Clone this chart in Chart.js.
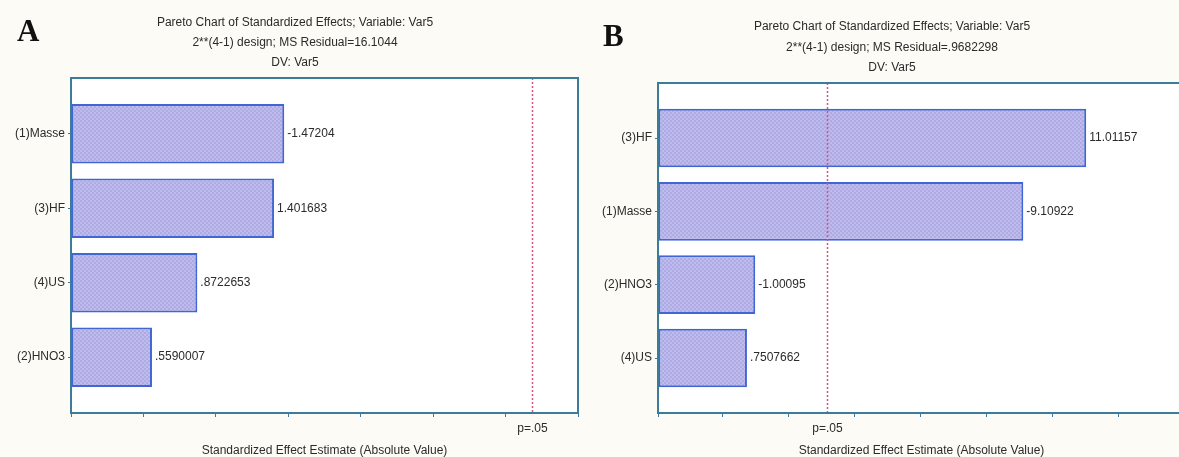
<!DOCTYPE html>
<html>
<head>
<meta charset="utf-8">
<script src="https://cdn.jsdelivr.net/npm/chart.js@4.4.1/dist/chart.umd.min.js"></script>
<style>
  html, body { margin: 0; padding: 0; background: #fdfbf5; overflow: hidden; }
  #wrap { position: relative; width: 1179px; height: 457px; }
  canvas { position: absolute; top: 0; }
  #chartA { left: 0; }
  #chartB { left: 590px; }
  .tag { position: absolute; font: bold 31px "Liberation Serif", "DejaVu Serif", serif; color: #111; }
</style>
</head>
<body>
<div id="wrap">
  <canvas id="chartA" width="590" height="457"></canvas>
  <canvas id="chartB" width="600" height="457"></canvas>
  <div class="tag" style="left:17px;top:13px">A</div>
  <div class="tag" style="left:603px;top:18px">B</div>
</div>
<script>
// data - panel A
const catsA = ["(1)Masse", "(3)HF", "(4)US", "(2)HNO3"];
const effectsA = [-1.47204, 1.401683, 0.8722653, 0.5590007];
const titleA = ["Pareto Chart of Standardized Effects; Variable: Var5",
  "2**(4-1) design; MS Residual=16.1044", "DV: Var5"];

// data - panel B
const catsB = ["(3)HF", "(1)Masse", "(2)HNO3", "(4)US"];
const effectsB = [11.01157, -9.10922, -1.00095, 0.7507662];
const titleB = ["Pareto Chart of Standardized Effects; Variable: Var5",
  "2**(4-1) design; MS Residual=.9682298", "DV: Var5"];

const tCrit = 3.182; // p=.05 line
const axisTitle = "Standardized Effect Estimate (Absolute Value)";

const FONT = '"Liberation Sans", Arial, sans-serif';
const FRAME = "#3d7c98";
const TEXT = "#2b2b2b";

// statistica style label: .8722653 instead of 0.8722653
function fmt(v) {
  return String(v).replace(/^(-?)0\./, "$1.");
}

// checkered lavender fill
function hatch() {
  const c = document.createElement("canvas");
  c.width = 4; c.height = 4;
  const g = c.getContext("2d");
  g.fillStyle = "#bfbbee";
  g.fillRect(0, 0, 4, 4);
  g.fillStyle = "#aeaae2";
  g.fillRect(0, 0, 2, 2);
  g.fillRect(2, 2, 2, 2);
  return g.createPattern(c, "repeat");
}

const paretoPlugin = {
  id: "pareto",
  beforeDraw(chart) {
    const a = chart.chartArea, ctx = chart.ctx;
    ctx.save();
    ctx.fillStyle = "#ffffff";
    ctx.fillRect(a.left, a.top, a.right - a.left, a.bottom - a.top);
    ctx.restore();
  },
  afterDatasetsDraw(chart, args, opts) {
    const a = chart.chartArea, ctx = chart.ctx;
    const xs = chart.scales.x;
    ctx.save();
    // value labels
    ctx.font = "12px " + FONT;
    ctx.fillStyle = TEXT;
    ctx.textBaseline = "middle";
    ctx.textAlign = "left";
    chart.getDatasetMeta(0).data.forEach(function (bar, i) {
      ctx.fillText(fmt(opts.effects[i]), bar.x + 3, bar.y);
    });
    // p=.05 line
    const px = Math.round(xs.getPixelForValue(tCrit)) + 0.5;
    ctx.strokeStyle = "#d4567c";
    ctx.lineWidth = 1.5;
    ctx.setLineDash([2, 2]);
    ctx.beginPath();
    ctx.moveTo(px, a.top);
    ctx.lineTo(px, a.bottom);
    ctx.stroke();
    ctx.setLineDash([]);
    // frame
    ctx.strokeStyle = FRAME;
    ctx.lineWidth = 2;
    ctx.strokeRect(a.left, a.top, a.right - a.left, a.bottom - a.top);
    // texts
    ctx.textAlign = "center";
    ctx.textBaseline = "middle";
    ctx.fillText("p=.05", px, 429);
    ctx.fillText(axisTitle, (a.left + a.right) / 2, 451);
    opts.title.forEach(function (t, i) {
      ctx.fillText(t, opts.titleX, opts.titleY[i]);
    });
    ctx.restore();
  },
};

function makeChart(id, cats, effects, title, o) {
  const ctx = document.getElementById(id);
  return new Chart(ctx, {
    type: "bar",
    data: {
      datasets: [
        {
          data: effects.map(function (v, i) { return { x: Math.abs(v), y: i }; }),
          base: o.xMin,
          backgroundColor: hatch(),
          borderColor: "#3f66d4",
          borderWidth: 2,
          borderSkipped: false,
          categoryPercentage: 1,
          barPercentage: 0.8,
        },
      ],
    },
    options: {
      indexAxis: "y",
      responsive: false,
      animation: false,
      events: [],
      layout: { padding: o.padding },
      plugins: {
        legend: { display: false },
        tooltip: { enabled: false },
        pareto: { effects: effects, title: title, titleX: o.titleX, titleY: o.titleY },
      },
      scales: {
        x: {
          type: "linear",
          min: o.xMin,
          max: o.xMax,
          ticks: { display: false, stepSize: o.step },
          grid: { drawOnChartArea: false, drawTicks: true, tickLength: 4, color: FRAME },
          border: { display: false },
          afterFit: function (s) { s.height = 4; },
        },
        y: {
          type: "linear",
          min: -0.75,
          max: 3.75,
          offset: false,
          reverse: true,
          afterBuildTicks: function (s) {
            s.ticks = cats.map(function (c, i) { return { value: i }; });
          },
          ticks: {
            padding: 3,
            color: TEXT,
            font: { family: FONT, size: 12 },
            callback: function (v) { return cats[Math.round(v)]; },
          },
          grid: { offset: false, drawOnChartArea: false, drawTicks: true, tickLength: 3, color: FRAME },
          border: { display: false },
          afterFit: function (s) { s.width = o.yWidth; },
        },
      },
    },
    plugins: [paretoPlugin],
  });
}

makeChart("chartA", catsA, effectsA, titleA, {
  xMin: 0, xMax: 3.5, step: 0.5, yWidth: 71,
  padding: { top: 78, right: 12, bottom: 40, left: 0 },
  titleX: 295, titleY: [23, 43, 63],
});

makeChart("chartB", catsB, effectsB, titleB, {
  xMin: -1.94, xMax: 14, step: 2, yWidth: 68,
  padding: { top: 83, right: 5, bottom: 40, left: 0 },
  titleX: 302, titleY: [27, 48, 68],
});
</script>
</body>
</html>
